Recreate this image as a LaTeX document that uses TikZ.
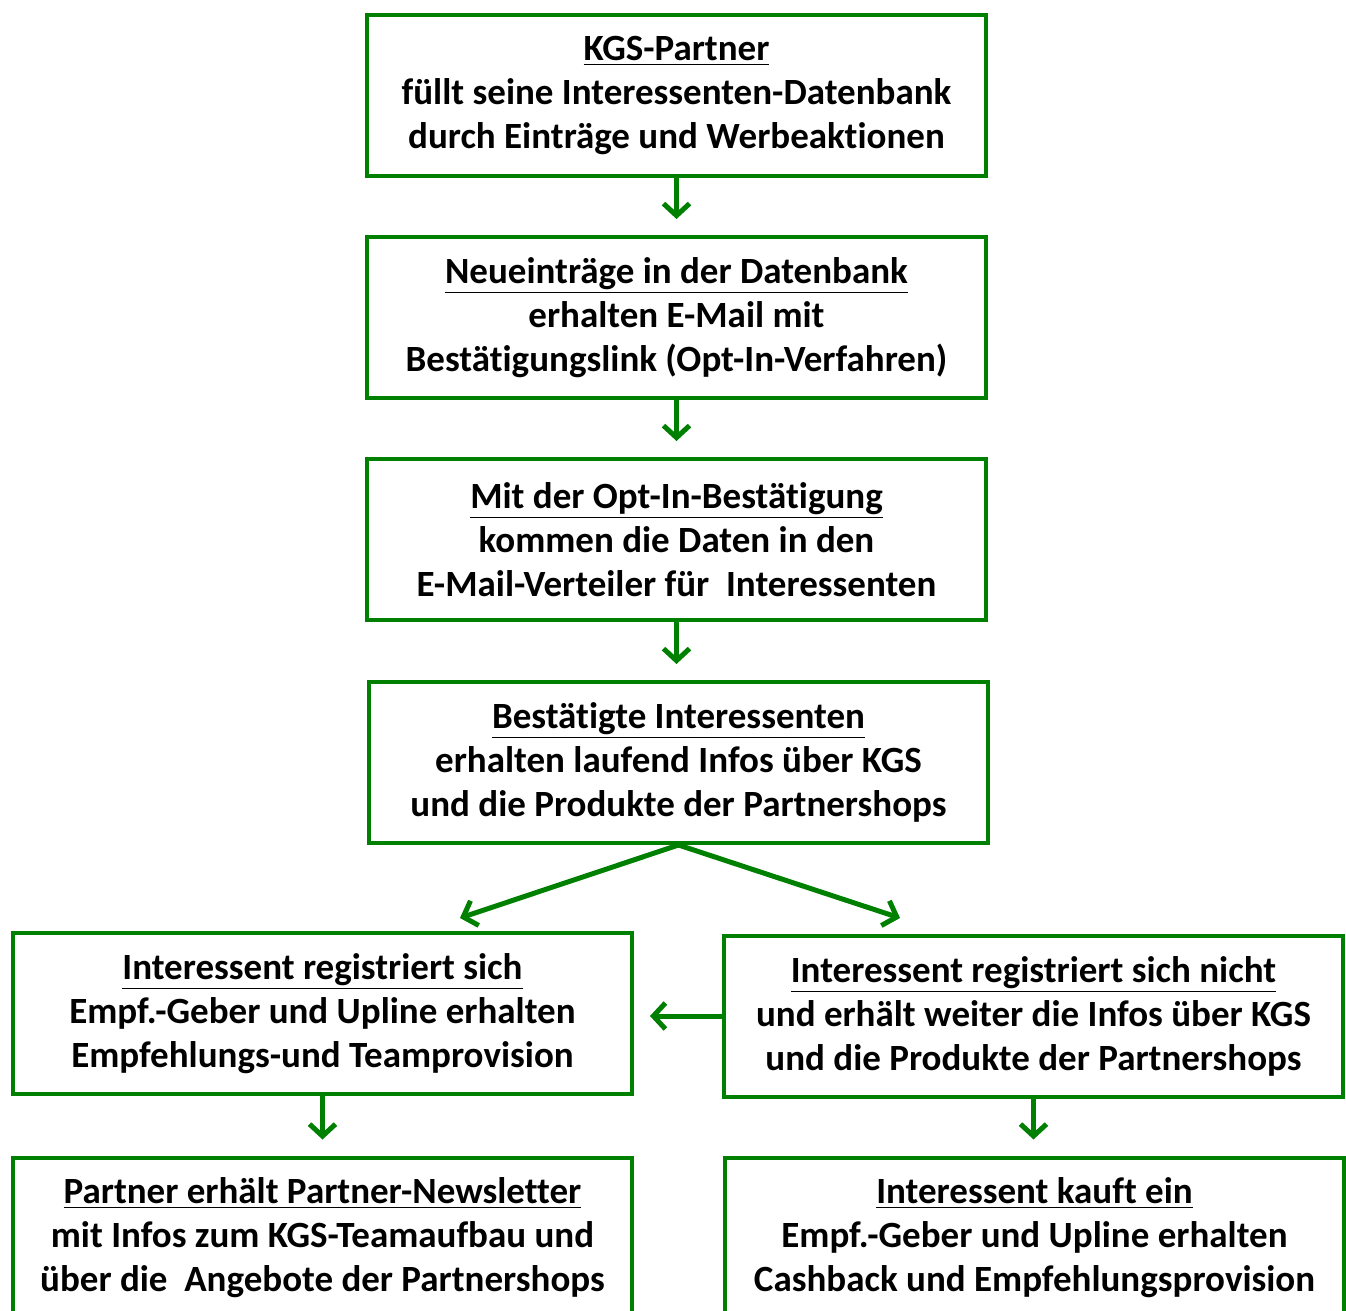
\documentclass[tikz,border=0pt]{standalone}
\usepackage{fontspec}
\setmainfont{Carlito}[BoldFont={Carlito Bold},Ligatures={NoCommon}]
\usepackage{tikz}
\usetikzlibrary{arrows.meta,positioning}
\tikzstyle{stage} = [draw=kgsgreen,line width=2pt,rectangle,minimum width=309.5pt,minimum height=80.5pt,inner sep=0,text width=306pt,align=flush center,font=\bfseries\fontsize{18.5}{22}\selectfont]
\tikzstyle{flow} = [-{Straight Barb[length=6pt,width=13pt,line width=2.5pt]},line width=2.5pt,color=kgsgreen]
\definecolor{kgsgreen}{RGB}{0,128,0}
\def \gap {8pt}

\begin{document}
\begin{tikzpicture}[x=0.5pt,y=-0.5pt]
  \useasboundingbox (0,0) rectangle (1346,1311);
  \clip (0,0) rectangle (1346,1311);
  \node[stage] (partner) at (676.5,96) {\underline{KGS-Partner}\\ füllt seine Interessenten-Datenbank\\ durch Einträge und Werbeaktionen};
  \node[stage] (neu) at (676.5,317.5) {\underline{Neueinträge in der Datenbank}\\ erhalten E-Mail mit\\ Bestätigungslink (Opt-In-Verfahren)};
  \node[stage] (optin) at (676.5,539.5) {\underline{Mit der Opt-In-Bestätigung}\\ kommen die Daten in den\\ E-Mail-Verteiler für\ \ Interessenten};
  \node[stage] (best) at (678.5,762.5) {\underline{Bestätigte Interessenten}\\ erhalten laufend Infos über KGS\\ und die Produkte der Partnershops};
  \node[stage] (reg) at (322.5,1013.5) {\underline{Interessent registriert sich}\\ Empf.-Geber und Upline erhalten\\ Empfehlungs-und Teamprovision};
  \node[stage] (nreg) at (1033.5,1016) {\underline{Interessent registriert sich nicht}\\ und erhält weiter die Infos über KGS\\ und die Produkte der Partnershops};
  \node[stage] (news) at (322.5,1238) {\underline{Partner erhält Partner-Newsletter}\\ mit Infos zum KGS-Teamaufbau und\\ über die\ \ Angebote der Partnershops};
  \node[stage] (kauf) at (1034.5,1238) {\underline{Interessent kauft ein}\\ Empf.-Geber und Upline erhalten\\ Cashback und Empfehlungsprovision};
  \coordinate (links) at (460,918);
  \coordinate (rechts) at (900,918);
  \draw[flow,shorten >=\gap] (partner.south) -- (neu.north);
  \draw[flow,shorten >=\gap] (neu.south) -- (optin.north);
  \draw[flow,shorten >=\gap] (optin.south) -- (optin.south |- best.north);
  \draw[flow] (best.south) -- (links);
  \draw[flow] (best.south) -- (rechts);
  \draw[flow,shorten >=\gap] (nreg.west) -- (nreg.west -| reg.east);
  \draw[flow,shorten >=\gap] (reg.south) -- (news.north);
  \draw[flow,shorten >=\gap] (nreg.south) -- (nreg.south |- kauf.north);
\end{tikzpicture}
\end{document}
